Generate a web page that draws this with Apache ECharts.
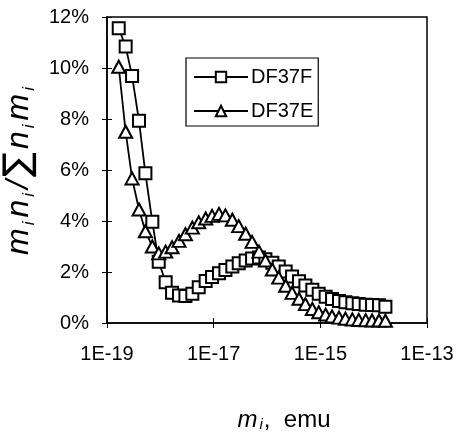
<!DOCTYPE html>
<html lang="en">

<head>
    <meta charset="UTF-8" />
    <title>Document</title>
    <style>
        html, body {
            margin: 0;
            padding: 0;
            background: #fff;
        }

        #chart {
            width: 464px;
            height: 442px;
        }
    </style>
</head>

<body>
    <div id="chart"></div>

    <script src="https://cdn.jsdelivr.net/npm/echarts@6/dist/echarts.min.js"></script>
    <script>
        // log10 of mi (emu)
        const logM = [
            -18.78, -18.65, -18.53, -18.40, -18.28, -18.15, -18.03, -17.90, -17.78, -17.65,
            -17.53, -17.40, -17.28, -17.15, -17.03, -16.90, -16.78, -16.65, -16.53, -16.40,
            -16.28, -16.15, -16.03, -15.90, -15.78, -15.65, -15.53, -15.40, -15.28, -15.15,
            -15.03, -14.90, -14.78, -14.65, -14.53, -14.40, -14.28, -14.15, -14.03, -13.90,
            -13.78
        ]
        // percent values
        const df37f = [
            11.56, 10.84, 9.69, 7.93, 5.87, 3.97, 2.40, 1.60, 1.19, 1.08,
            1.06, 1.15, 1.40, 1.65, 1.80, 1.95, 2.08, 2.22, 2.34, 2.45,
            2.53, 2.57, 2.50, 2.36, 2.22, 2.02, 1.82, 1.64, 1.47, 1.30,
            1.15, 1.03, 0.94, 0.86, 0.81, 0.77, 0.75, 0.72, 0.71, 0.70,
            0.64
        ]
        const df37e = [
            10.05, 7.50, 5.67, 4.45, 3.60, 3.00, 2.73, 2.80, 2.97, 3.22,
            3.48, 3.74, 3.95, 4.10, 4.20, 4.28, 4.22, 4.05, 3.80, 3.50,
            3.18, 2.80, 2.45, 2.10, 1.78, 1.46, 1.18, 0.95, 0.74, 0.55,
            0.42, 0.33, 0.26, 0.21, 0.17, 0.14, 0.12, 0.11, 0.10, 0.10,
            0.09
        ]
        const seriesNames = ['DF37F', 'DF37E']
        const xTicks = ['1E-19', '1E-17', '1E-15', '1E-13']

        const font = 'Liberation Sans, Arial, sans-serif'

        function pairs (xs, ys) {
            return xs.map((x, i) => [x, ys[i]])
        }

        const chart = echarts.init(document.getElementById('chart'), null, { renderer: 'canvas' })

        // extra axes only for the inner half of the crossing ticks
        const innerTicks = {
            axisLine: { show: false },
            axisTick: { inside: true, length: 5, lineStyle: { color: '#000' } },
            axisLabel: { show: false },
            splitLine: { show: false }
        }

        const option = {
            backgroundColor: '#fff',
            animation: false,
            grid: {
                left: 107,
                right: 37,
                top: 17,
                bottom: 119,
                containLabel: false,
                outerBoundsMode: 'none',
                show: true,
                borderColor: '#000',
                borderWidth: 1.5
            },
            legend: {
                data: seriesNames,
                orient: 'vertical',
                left: 186,
                top: 58,
                itemWidth: 54,
                itemHeight: 13,
                itemGap: 14,
                padding: [9, 5, 5, 7],
                borderColor: '#000',
                borderWidth: 1.2,
                borderRadius: 0,
                textStyle: {
                    fontFamily: font,
                    fontSize: 20,
                    color: '#000',
                    padding: [0, 0, 0, -2]
                }
            },
            xAxis: [
                {
                    type: 'value',
                    min: -19,
                    max: -13,
                    interval: 2,
                    name: '{m|m}{s|i}{t|,  emu}',
                    nameLocation: 'middle',
                    nameGap: 85,
                    nameTextStyle: {
                        padding: [0, 0, 0, 34],
                        rich: {
                            m: { fontFamily: font, fontSize: 24, fontStyle: 'italic', color: '#000' },
                            s: { fontFamily: font, fontSize: 15, fontStyle: 'italic', color: '#000', verticalAlign: 'bottom', padding: [0, 1, 0, 2] },
                            t: { fontFamily: font, fontSize: 24, color: '#000' }
                        }
                    },
                    axisLine: { lineStyle: { color: '#000', width: 1.5 } },
                    axisTick: { length: 5, lineStyle: { color: '#000' } },
                    axisLabel: {
                        margin: 21,
                        fontFamily: font,
                        fontSize: 20,
                        color: '#000',
                        formatter: v => xTicks[Math.round((v + 19) / 2)] || ''
                    },
                    splitLine: { show: false }
                },
                Object.assign({ type: 'value', min: -19, max: -13, interval: 2, position: 'bottom' }, innerTicks)
            ],
            yAxis: [
                {
                    type: 'value',
                    min: 0,
                    max: 12,
                    interval: 2,
                    name: '{m|m}{s|i}{m|n}{s|i}{m|/}{sum|∑}{m|n}{s|i}{m|m}{s|i}',
                    nameLocation: 'middle',
                    nameGap: 52,
                    nameTextStyle: {
                        rich: {
                            m: { fontFamily: font, fontSize: 32, fontStyle: 'italic', color: '#000', padding: [0, 1, 0, 1] },
                            s: { fontFamily: font, fontSize: 17, fontStyle: 'italic', color: '#000', verticalAlign: 'bottom', padding: [0, 3, 0, 2] },
                            sum: { fontFamily: 'DejaVu Sans, sans-serif', fontSize: 37, color: '#000', padding: [0, 2, 0, 2] }
                        }
                    },
                    axisLine: { show: true, lineStyle: { color: '#000', width: 1.5 } },
                    axisTick: { show: true, length: 5, lineStyle: { color: '#000' } },
                    axisLabel: {
                        margin: 18,
                        fontFamily: font,
                        fontSize: 20,
                        color: '#000',
                        formatter: '{value}%'
                    },
                    splitLine: { show: false }
                },
                Object.assign({ type: 'value', min: 0, max: 12, interval: 2, position: 'left' }, innerTicks)
            ],
            series: [
                {
                    name: seriesNames[0],
                    type: 'line',
                    data: pairs(logM, df37f),
                    symbol: 'rect',
                    symbolSize: 12,
                    showAllSymbol: true,
                    lineStyle: { color: '#000', width: 1.8 },
                    itemStyle: { color: '#fff', borderColor: '#000', borderWidth: 2 }
                },
                {
                    name: seriesNames[1],
                    type: 'line',
                    data: pairs(logM, df37e),
                    symbol: 'triangle',
                    symbolSize: [13, 12],
                    showAllSymbol: true,
                    lineStyle: { color: '#000', width: 1.8 },
                    itemStyle: { color: '#fff', borderColor: '#000', borderWidth: 2 }
                }
            ]
        }
        chart.setOption(option)
    </script>
</body>

</html>
